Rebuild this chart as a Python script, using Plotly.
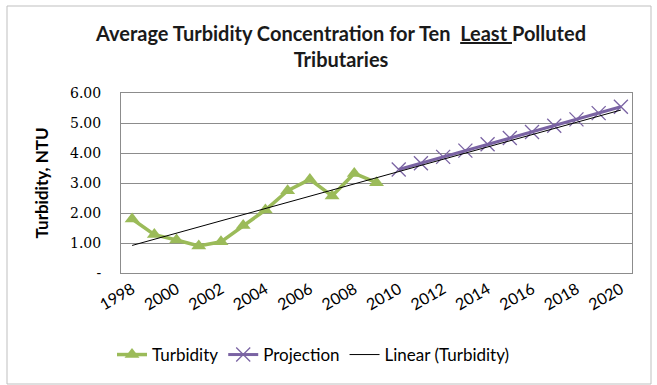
import numpy as np
import plotly.graph_objects as go

years_obs = [1998, 1999, 2000, 2001, 2002, 2003, 2004, 2005, 2006, 2007, 2008, 2009]
turbidity = [1.80, 1.28, 1.10, 0.90, 1.04, 1.58, 2.10, 2.74, 3.12, 2.57, 3.32, 3.01]
years_proj = [2010, 2011, 2012, 2013, 2014, 2015, 2016, 2017, 2018, 2019, 2020]
projection = [3.45, 3.66, 3.87, 4.08, 4.29, 4.50, 4.70, 4.91, 5.12, 5.33, 5.54]
x_ticks = [1998, 2000, 2002, 2004, 2006, 2008, 2010, 2012, 2014, 2016, 2018, 2020]
y_ticks = [0, 1, 2, 3, 4, 5, 6]
y_tick_labels = ["-", "1.00", "2.00", "3.00", "4.00", "5.00", "6.00"]

# linear trendline fitted to the observed turbidity, forecast to 2020
coef = np.polyfit(np.array(years_obs) - 1998, np.array(turbidity), 1)
trend_x = np.array([1998, 2020])
trend_y = np.polyval(coef, trend_x - 1998)

fig = go.Figure()
fig.add_trace(go.Scatter(
    x=years_obs, y=turbidity, name="Turbidity", mode="lines+markers",
    line=dict(color="#9BBB59", width=3.5),
    marker=dict(symbol="triangle-up", size=13, color="#9BBB59"),
))
fig.add_trace(go.Scatter(
    x=years_proj, y=projection, name="Projection", mode="lines+markers",
    line=dict(color="#7A63A3", width=3),
    marker=dict(symbol="x-thin-open", size=14, line=dict(color="#A99BCB", width=1.3)),
))
fig.add_trace(go.Scatter(
    x=trend_x, y=trend_y, name="Linear (Turbidity)", mode="lines",
    line=dict(color="#000000", width=1),
))

L, R, T, B = 121, 632, 93, 273
W, H = 657, 385
pw, ph = R - L, B - T
def px_x(p):
    return (p - L) / pw
def px_y(p):
    return (B - p) / ph

fig.update_layout(
    width=W, height=H,
    margin=dict(l=L, r=W - R, t=T, b=H - B),
    paper_bgcolor="white", plot_bgcolor="white",
    font=dict(family="Lato, Open Sans, sans-serif", size=13, color="#000000"),
    title=dict(
        text="<b>Average Turbidity Concentration for Ten  <u>Least </u>Polluted<br>Tributaries</b>",
        x=341 / W, xanchor="center", xref="container", y=1 - 41 / H, yanchor="middle",
        font=dict(size=20, color="#1A1A1A"),
    ),
    legend=dict(
        orientation="h", x=px_x(112), xanchor="left", y=px_y(355), yanchor="middle",
        font=dict(size=17), bgcolor="rgba(0,0,0,0)", itemwidth=30,
    ),
    shapes=[dict(
        type="rect", xref="paper", yref="paper",
        x0=px_x(7), x1=px_x(651), y0=px_y(384), y1=px_y(6),
        line=dict(color="#BFBFBF", width=1), fillcolor="rgba(0,0,0,0)", layer="below",
    )],
)
fig.update_xaxes(
    range=[1997.5, 2020.5], tickmode="array", tickvals=x_ticks, tickangle=-30,
    showgrid=False, zeroline=False,
    showline=True, linecolor="#8C8C8C", linewidth=1, mirror=True,
    ticks="",
    tickfont_size=16, tickfont_color="#000000", tickfont_family="Lato",
)
fig.update_yaxes(
    range=[0, 6], tickmode="array", tickvals=y_ticks, ticktext=y_tick_labels,
    showgrid=True, gridcolor="#8C8C8C", gridwidth=1, zeroline=False,
    showline=True, linecolor="#8C8C8C", linewidth=1, mirror=True,
    ticks="outside", ticklen=16, tickcolor="rgba(0,0,0,0)",
    tickfont_family="DejaVu Serif", tickfont_size=14, tickfont_color="#000000",
    title_text="<b>Turbidity, NTU</b>", title_standoff=17,
    title_font_size=17, title_font_color="#000000",
)

fig.write_html("out.html")
